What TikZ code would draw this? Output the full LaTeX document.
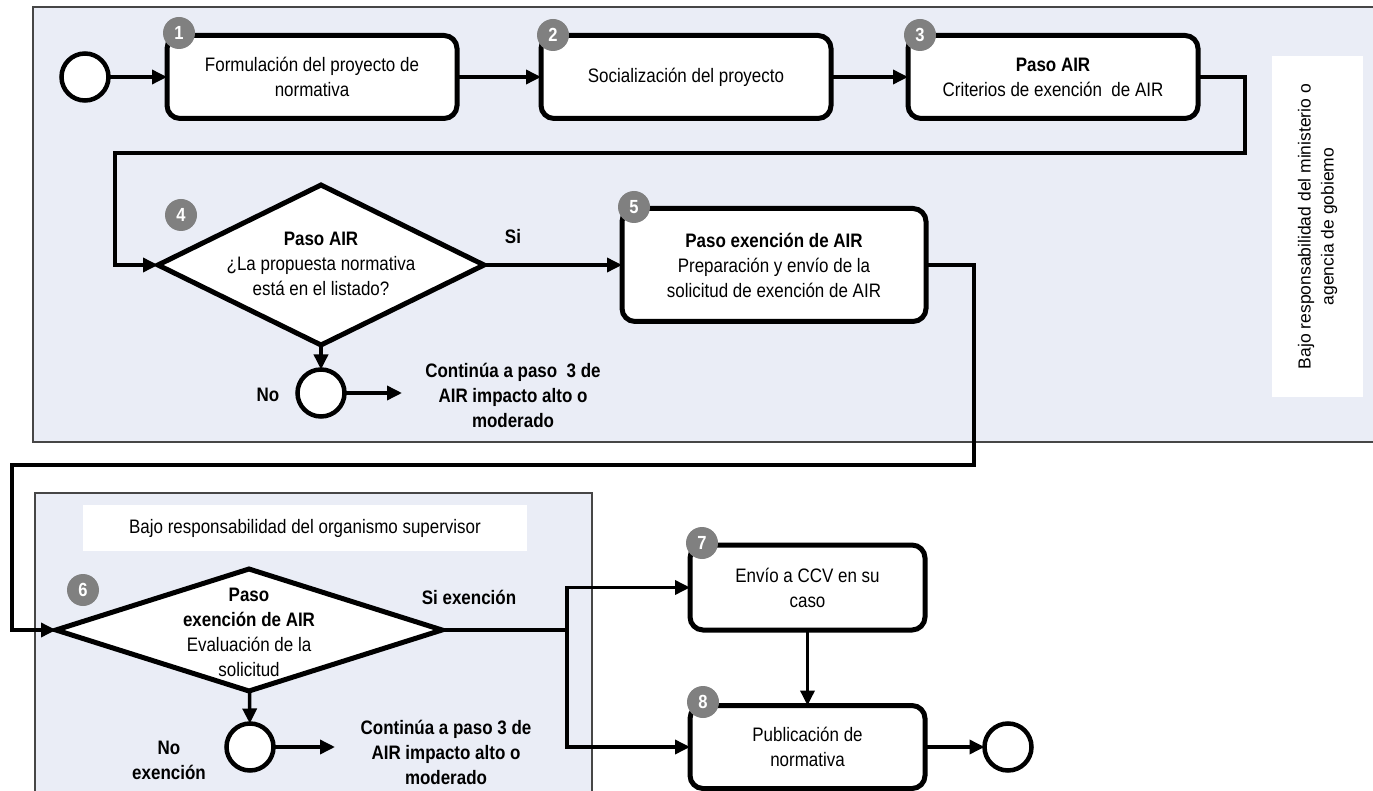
\documentclass[tikz,border=0pt]{standalone}
\usepackage{fontspec}
\setmainfont{Liberation Sans}[FakeStretch=0.87]
\newfontfamily\plainfont{Liberation Sans}
\usetikzlibrary{arrows.meta,shapes.geometric,calc}
\definecolor{panel}{RGB}{234,237,246}
\definecolor{badgegray}{RGB}{128,128,128}
\definecolor{panelline}{RGB}{70,70,70}
\begin{document}
\begin{tikzpicture}[x=1pt,y=-1pt,
  txt/.style={font=\fontsize{19.5}{25}\selectfont, align=center, inner sep=0pt},
  btxt/.style={font=\fontsize{19.5}{25}\selectfont\bfseries, align=center, inner sep=0pt},
  stepbox/.style={draw, line width=5pt, rounded corners=13pt, fill=white, inner sep=0pt, outer sep=0pt,
    align=center, font=\fontsize{19.5}{25}\selectfont},
  badge/.style={circle, fill=badgegray, text=white, font=\fontsize{19}{19}\selectfont\bfseries,
    minimum size=32pt, inner sep=0pt},
  ev/.style={circle, draw, line width=4.5pt, fill=white, minimum size=47pt, inner sep=0pt, outer sep=0pt},
  dec/.style={diamond, draw, line width=5pt, fill=white, inner sep=0pt, outer sep=0pt},
  flow/.style={line width=3.5pt, -{Triangle[length=15pt,width=14pt]}},
  plain/.style={line width=3.5pt},
  lane/.style={fill=panel},
  laneline/.style={draw=panelline, line width=1.5pt}
]
\useasboundingbox (0,0) rectangle (1373,791);
% lanes
\fill[lane] (33,7) rectangle (1373,442);
\draw[laneline] (1373,7) -- (33,7) -- (33,442) -- (1373,442);
\fill[lane] (35,493) rectangle (592,791);
\draw[laneline] (35,791) -- (35,493) -- (592,493) -- (592,791);
\node[fill=white, rotate=90, minimum width=341pt, minimum height=91pt, align=center,
  font=\plainfont\fontsize{17.5}{23}\selectfont] (lab1) at (1317.5,226.5)
  {Bajo responsabilidad del ministerio o\\agencia de gobiemo};
\node[fill=white, minimum width=444pt, minimum height=46pt, txt] (lab2) at (305,528)
  {Bajo responsabilidad del organismo supervisor};

% nodes
\node[ev] (start) at (85,77) {};
\node[stepbox, minimum width=290pt, minimum height=83pt] (b1) at (312,77) {Formulación del proyecto de\\normativa};
\node[stepbox, minimum width=290pt, minimum height=83pt] (b2) at (686,77) {Socialización del proyecto};
\node[stepbox, minimum width=290pt, minimum height=83pt] (b3) at (1053,77) {\textbf{Paso AIR}\\Criterios de exención\ \ de AIR};
\node[dec, minimum width=326pt, minimum height=160pt] (d4) at (321,265) {};
\node[txt] (t4) at (321,264) {\textbf{Paso AIR}\\¿La propuesta normativa\\está en el listado?};
\node[stepbox, minimum width=304pt, minimum height=113pt] (b5) at (774,265) {\textbf{Paso exención de AIR}\\Preparación y envío de la\\solicitud de exención de AIR};
\node[ev] (c4) at (321,393) {};
\node[btxt] (no4) at (268,395) {No};
\coordinate (k4) at (402,393);
\node[btxt] (cont4) at (513,395) {Continúa a paso\ \ 3 de\\AIR impacto alto o\\moderado};
\node[btxt] (si4) at (513,237) {Si};

\node[dec, minimum width=386pt, minimum height=122pt] (d6) at (249,630) {};
\node[txt] (t6) at (249,632) {\textbf{Paso}\\\textbf{exención de AIR}\\Evaluación de la\\solicitud};
\node[btxt] (si6) at (469,597) {Si exención};
\node[ev] (c6) at (250,747) {};
\node[btxt] (no6) at (169,760) {No\\exención};
\coordinate (k6) at (335,747);
\node[btxt] (cont6) at (446,752) {Continúa a paso 3 de\\AIR impacto alto o\\moderado};
\node[stepbox, minimum width=235pt, minimum height=85pt] (b7) at (807.5,587.5) {Envío a CCV en su\\caso};
\node[stepbox, minimum width=235pt, minimum height=83pt] (b8) at (807.5,747) {Publicación de\\normativa};
\node[ev] (end) at (1008,747) {};

% badges
\node[badge] (n1) at (179,33) {1};
\node[badge] (n2) at (553,35) {2};
\node[badge] (n3) at (920,35) {3};
\node[badge] (n4) at (181,215) {4};
\node[badge] (n5) at (634,207) {5};
\node[badge] (n6) at (83,590) {6};
\node[badge] (n7) at (702,543) {7};
\node[badge] (n8) at (703,702) {8};

% connectors
\draw[flow] (start) -- (b1);
\draw[flow] (b1) -- (b2);
\draw[flow] (b2) -- (b3);
\draw[flow] (b3.east) -- (1245,77) -- (1245,153) -- (115,153) |- (d4.west);
\draw[flow] (d4) -- (b5);
\draw[flow] (d4) -- (c4);
\draw[flow] (c4) -- (k4);
\draw[flow] (b5.east) -- (974,265) -- (974,465) -- (12,465) |- (d6.west);
\draw[plain] (d6.east) -- (567,630) coordinate (split);
\draw[flow] (split) |- (b7.west);
\draw[flow] (split) |- (b8.west);
\draw[flow] (b7) -- (b8);
\draw[flow] (b8) -- (end);
\draw[flow] (d6) -- (c6);
\draw[flow] (c6) -- (k6);
\end{tikzpicture}
\end{document}
